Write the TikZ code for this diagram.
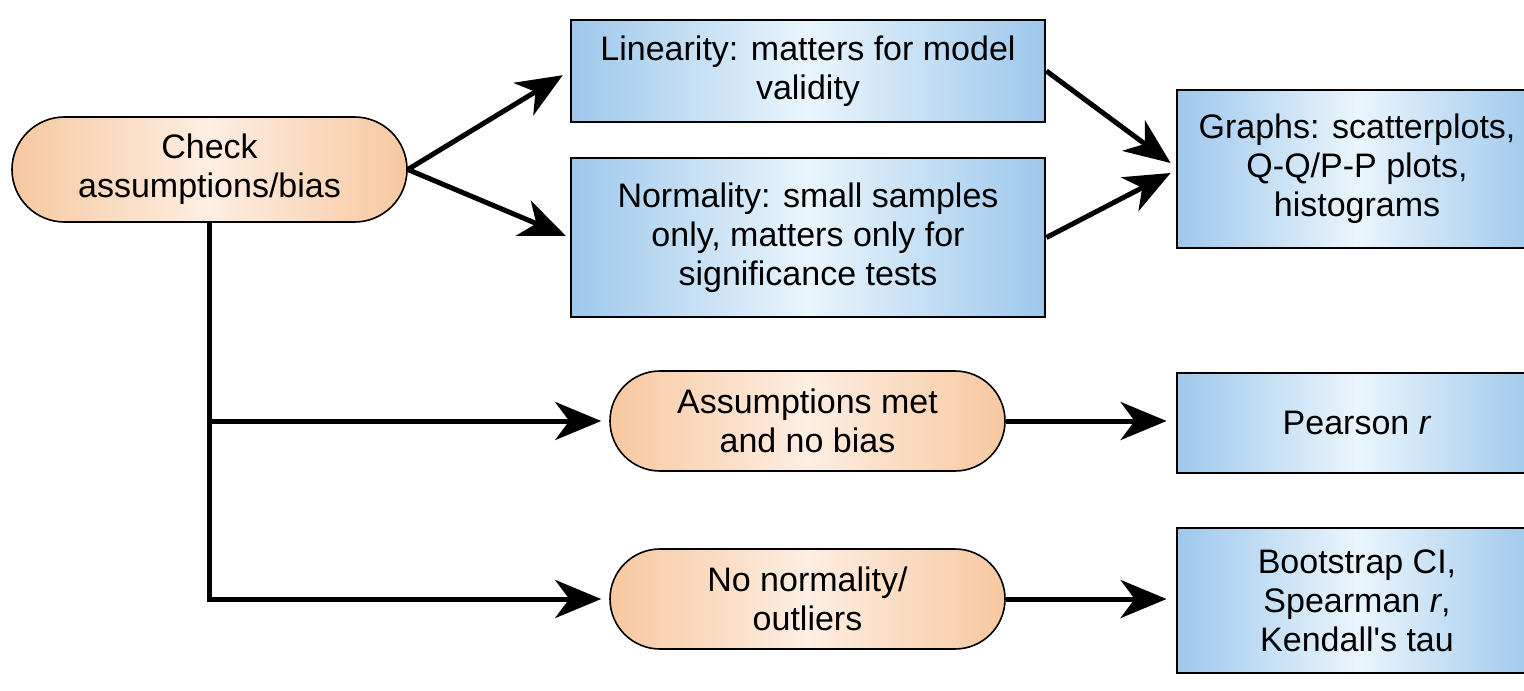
\documentclass[tikz,border=0pt]{standalone}
\usepackage{fontspec}
\setmainfont{Liberation Sans}
\usetikzlibrary{arrows.meta,shapes.misc,calc}
\definecolor{peachE}{RGB}{247,200,160}
\definecolor{peachC}{RGB}{253,238,226}
\definecolor{blueE}{RGB}{158,200,236}
\definecolor{blueC}{RGB}{234,245,252}
\begin{document}
\begin{tikzpicture}[x=0.5pt,y=-0.5pt,
 every node/.style={font=\fontsize{17}{19.5}\selectfont, align=center, inner sep=0pt},
 pill/.style={rounded rectangle, draw=black, line width=0.8pt, left color=peachE, right color=peachE, middle color=peachC, minimum width=197.5pt},
 bbox/.style={rectangle, draw=black, line width=1.4pt, left color=blueE, right color=blueE, middle color=blueC},
 conn/.style={line width=2.5pt, -{Stealth[length=23pt,width=19pt,inset=7pt]}},
]
\useasboundingbox (0,0) rectangle (1524,690);
\clip (0,0) rectangle (1524,690);

\node[pill, minimum height=52.5pt] (check) at (209.5,169.5) {Check\\assumptions/bias};
\node[bbox, minimum width=237pt, minimum height=51pt] (lin) at (808,71) {Linearity: matters for model\\validity};
\node[bbox, minimum width=237pt, minimum height=79.5pt] (norm) at (808,237.5) {Normality: small samples\\only, matters only for\\significance tests};
\node[bbox, minimum width=180pt, minimum height=79pt] (graphs) at (1357,169) {Graphs: scatterplots,\\Q-Q/P-P plots,\\histograms};
\node[pill, minimum height=50pt] (met) at (807.5,421) {Assumptions met\\and no bias};
\node[pill, minimum height=50pt] (nonorm) at (807.5,599) {No normality/\\outliers};
\node[bbox, minimum width=180pt, minimum height=50pt] (pearson) at (1357,423) {Pearson \textit{r}};
\node[bbox, minimum width=180pt, minimum height=72.5pt] (boot) at (1357,600.5) {Bootstrap CI,\\Spearman \textit{r},\\Kendall\textquotesingle s tau};

\draw[conn, shorten >=4pt] (check.east) -- (lin.west);
\draw[conn, shorten >=2pt] (check.east) -- (norm.west);
\draw[conn] (lin.east) -- ($(graphs.west)+(-5,-6)$);
\draw[conn] (norm.east) -- ($(graphs.west)+(-5,4)$);
\draw[conn, shorten >=4pt] (check.south) |- (nonorm.west);
\draw[conn, shorten >=4pt] (check.south |- met.west) -- (met.west);
\draw[conn, shorten >=4.5pt] (met.east) -- (met.east -| pearson.west);
\draw[conn, shorten >=4.5pt] (nonorm.east) -- (nonorm.east -| boot.west);
\end{tikzpicture}
\end{document}
